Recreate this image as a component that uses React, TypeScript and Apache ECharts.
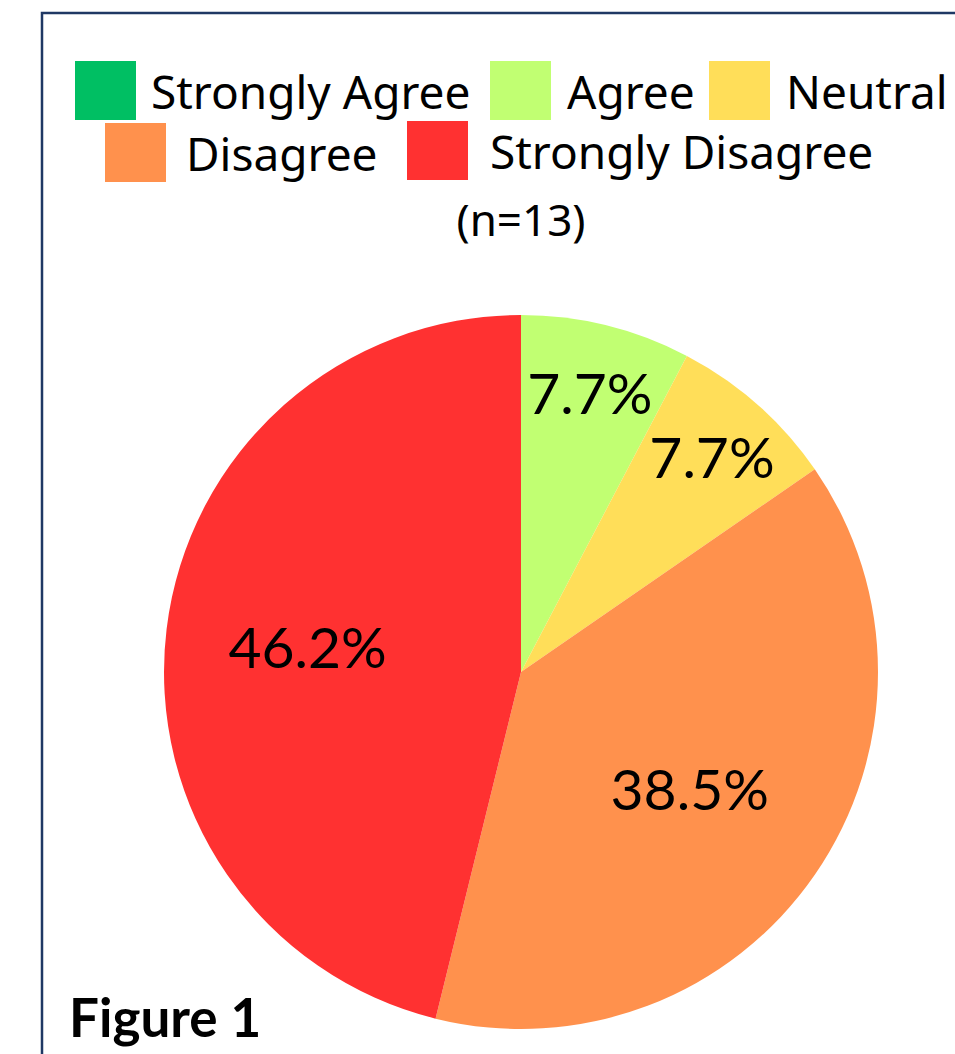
import React, { useEffect, useRef } from "react";
import * as echarts from "echarts";

const categories = ["Strongly Agree", "Agree", "Neutral", "Disagree", "Strongly Disagree"];
const counts = [0, 1, 1, 5, 6];
const colors = ["#00BF63", "#C1FF72", "#FFDE59", "#FF914D", "#FF3131"];
const sampleLabel = "(n=13)";
const figureLabel = "Figure 1";
// label placement groups (small slices carry their label further out)
const outerLabelSlices = ["Agree", "Neutral"];
const midLabelSlices = ["Strongly Disagree"];
const innerLabelSlices = ["Disagree"];

const total = counts.reduce((a, b) => a + b, 0);
const pct = (v: number) => ((v / total) * 100).toFixed(1) + "%";

const CENTER = [521, 672];
const R = 357;

export default function App() {
  const ref = useRef<HTMLDivElement>(null);

  useEffect(() => {
    document.body.style.margin = "0";
    if (!ref.current) return;
    const chart = echarts.init(ref.current, null, { renderer: "svg" });

    const data = categories.map((name, i) => ({
      name,
      value: counts[i],
      itemStyle: { color: colors[i] },
    }));

    const labelSeries = (names: string[], radius: number) => ({
      type: "pie",
      center: CENTER,
      radius: [0, radius],
      startAngle: 90,
      clockwise: true,
      silent: true,
      avoidLabelOverlap: false,
      itemStyle: { color: "rgba(0,0,0,0)", borderWidth: 0 },
      emphasis: { disabled: true },
      labelLine: { show: false },
      label: {
        show: true,
        position: "inside",
        color: "#000",
        fontFamily: "Lato",
        fontSize: 57,
        formatter: (p: any) => (names.includes(p.name) && p.value > 0 ? pct(p.value) : ""),
      },
      data: categories.map((name, i) => ({ name, value: counts[i] })),
    });

    const legendPos = [
      { left: 75, top: 61, pad: 10 },
      { left: 490, top: 61, pad: 11 },
      { left: 709, top: 61, pad: 11 },
      { left: 105, top: 123, pad: 15 },
      { left: 407, top: 121, pad: 17 },
    ];

    chart.setOption({
      animation: false,
      legend: categories.map((name, i) => ({
        data: [name],
        left: legendPos[i].left,
        top: legendPos[i].top,
        padding: 0,
        orient: "horizontal",
        icon: "rect",
        itemWidth: 61,
        itemHeight: 59,
        selectedMode: true,
        textStyle: {
          fontFamily: "Noto Sans",
          fontSize: 46,
          color: "#000",
          padding: [0, 0, 0, legendPos[i].pad],
        },
      })),
      graphic: [
        {
          type: "rect",
          shape: { x: 42, y: 13, width: 1000, height: 1100 },
          style: { fill: "none", stroke: "#1F3864", lineWidth: 2.5 },
          silent: true,
        },
        {
          type: "text",
          x: 521,
          y: 219,
          style: {
            text: sampleLabel,
            fontFamily: "Noto Sans",
            fontSize: 44,
            fill: "#000",
            textAlign: "center",
            textVerticalAlign: "middle",
          },
        },
        {
          type: "text",
          x: 69,
          y: 1016,
          style: {
            text: figureLabel,
            fontFamily: "Lato",
            fontWeight: "bold",
            fontSize: 53,
            fill: "#000",
            textAlign: "left",
            textVerticalAlign: "middle",
          },
        },
      ],
      series: [
        {
          type: "pie",
          center: CENTER,
          radius: [0, R],
          startAngle: 90,
          clockwise: true,
          avoidLabelOverlap: false,
          label: { show: false },
          labelLine: { show: false },
          emphasis: { scale: false },
          data,
        },
        labelSeries(outerLabelSlices, 570),
        labelSeries(midLabelSlices, 424),
        labelSeries(innerLabelSlices, 404),
      ],
    });

    return () => chart.dispose();
  }, []);

  return <div ref={ref} style={{ width: 955, height: 1054 }} />;
}
